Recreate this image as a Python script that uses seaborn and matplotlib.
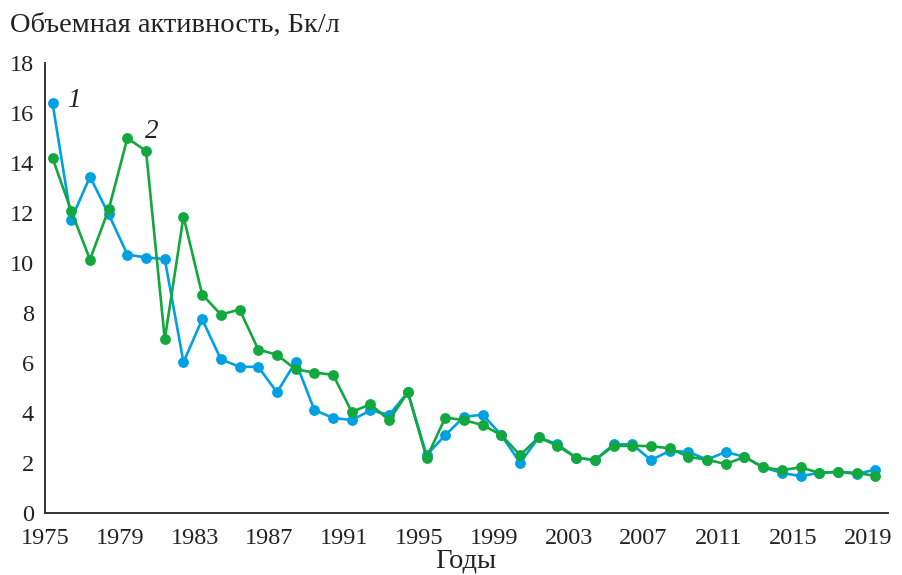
import numpy as np
import pandas as pd
import matplotlib
matplotlib.use("Agg")
import matplotlib.pyplot as plt
import seaborn as sns

years = list(range(1975, 2020))
series1 = [16.37, 11.73, 13.44, 11.94, 10.33, 10.21, 10.15, 6.02, 7.74, 6.14,
           5.84, 5.84, 4.82, 6.04, 4.11, 3.80, 3.71, 4.10, 3.92, 4.82,
           2.31, 3.11, 3.84, 3.93, 3.11, 2.00, 3.02, 2.74, 2.21, 2.11,
           2.74, 2.74, 2.11, 2.48, 2.44, 2.13, 2.44, 2.24, 1.82, 1.60,
           1.47, 1.60, 1.64, 1.56, 1.73]
series2 = [14.18, 12.07, 10.13, 12.13, 14.98, 14.47, 6.94, 11.85, 8.73, 7.93,
           8.13, 6.53, 6.32, 5.74, 5.61, 5.52, 4.04, 4.34, 3.71, 4.82,
           2.20, 3.81, 3.71, 3.51, 3.11, 2.31, 3.02, 2.68, 2.21, 2.11,
           2.68, 2.68, 2.67, 2.58, 2.24, 2.13, 1.95, 2.24, 1.82, 1.71,
           1.82, 1.60, 1.64, 1.60, 1.48]
series_names = ["1", "2"]
xticks = list(range(1975, 2020, 4))
ylabel = "Объемная активность, Бк/л"
xlabel = "Годы"

df = pd.DataFrame({
    "year": years * 2,
    "value": series1 + series2,
    "series": [series_names[0]] * len(years) + [series_names[1]] * len(years),
})
df["xpos"] = df["year"] + 0.4

sns.set_style("white")
plt.rcParams["font.family"] = ["Liberation Serif", "DejaVu Serif"]

fig = plt.figure(figsize=(9.02, 5.75), dpi=100)
ax = fig.add_axes([0.050, 0.108, 0.935, 0.783])

palette = {"1": "#00A0E3", "2": "#12A83E"}
sns.lineplot(data=df, x="xpos", y="value", hue="series", palette=palette,
             hue_order=["1", "2"],
             marker="o", markersize=7.8, markeredgewidth=0, linewidth=1.9,
             legend=False, ax=ax)

ax.set_xlim(1975, 2020.1)
ax.set_ylim(0, 18)
ax.set_xticks(xticks)
ax.set_xticklabels([str(t) for t in xticks])
ax.set_yticks(range(0, 19, 2))
ax.tick_params(axis="both", direction="in", length=6, width=1.1,
               colors="#222222", labelsize=17.5, labelcolor="#222222")
ax.tick_params(axis="x", pad=11)
ax.tick_params(axis="y", pad=8)
for side in ["top", "right"]:
    ax.spines[side].set_visible(False)
for side in ["left", "bottom"]:
    ax.spines[side].set_color("#333333")
    ax.spines[side].set_linewidth(1.4)
ax.set_xlabel("")
ax.set_ylabel("")

fig.text(0.011, 0.955, ylabel, fontsize=20.5, color="#222222", ha="left", va="center")
fig.text(0.516, 0.024, xlabel, fontsize=20.5, color="#222222", ha="center", va="center")

ax.text(1976.55, 16.5, "1", fontsize=19.5, style="italic", color="#222222",
        ha="center", va="center")
ax.text(1980.7, 15.25, "2", fontsize=19.5, style="italic", color="#222222",
        ha="center", va="center")

fig.savefig("out.png", dpi=100)
